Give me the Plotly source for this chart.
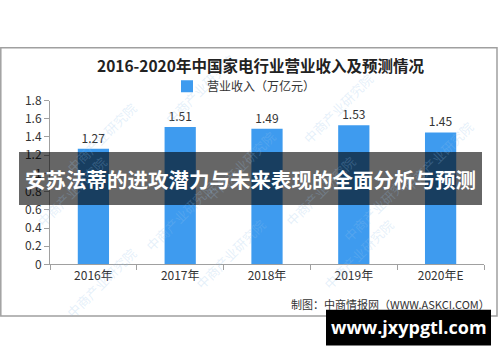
import plotly.graph_objects as go

categories = ["2016年", "2017年", "2018年", "2019年", "2020年E"]
revenue = [1.27, 1.51, 1.49, 1.53, 1.45]
y_ticks = [0, 0.2, 0.4, 0.6, 0.8, 1, 1.2, 1.4, 1.6, 1.8]
title_text = "2016-2020年中国家电行业营业收入及预测情况"
series_name = "营业收入（万亿元）"
source_text = "制图：中商情报网（WWW.ASKCI.COM）"
overlay_text = "安苏法蒂的进攻潜力与未来表现的全面分析与预测"
site_text = "www.jxypgtl.com"

W, H = 500, 362
def px(x): return x / W
def py(y): return 1 - y / H

FONT = "Noto Sans CJK SC"

fig = go.Figure()
fig.add_trace(go.Bar(
    x=categories, y=revenue, name=series_name,
    marker=dict(color="#3E9BEF", line=dict(width=0)),
    width=0.36,
    text=[f"{v:.2f}" for v in revenue], textposition="outside",
    textfont=dict(size=12, color="#333333", family=FONT),
    cliponaxis=False,
))

shapes = [
    dict(type="rect", xref="paper", yref="paper",
         x0=px(0.8), x1=px(497), y0=py(39.5), y1=py(321),
         line=dict(color="#A0A0A0", width=1.5), fillcolor="rgba(0,0,0,0)", layer="below"),
    dict(type="rect", xref="paper", yref="paper",
         x0=px(19), x1=px(482), y0=py(149), y1=py(204.5),
         line=dict(width=0), fillcolor="rgba(0,0,0,0.6)", layer="above"),
    dict(type="rect", xref="paper", yref="paper",
         x0=px(326), x1=px(491), y0=py(314.5), y1=py(352),
         line=dict(width=0), fillcolor="#000000", layer="above"),
]

annotations = []
# faint watermarks (drawn first, beneath other texts)
for (wx, wy) in [(60, 90), (200, 40), (240, 120), (380, 60), (480, 110), (30, 190), (180, 260),
                 (320, 190), (420, 250), (60, 330), (230, 300), (400, 300)]:
    annotations.append(dict(text="中商产业研究院", xref="paper", yref="paper", x=px(wx), y=py(wy),
                            showarrow=False, textangle=-45,
                            font=dict(size=13, color="rgba(150,195,235,0.25)", family=FONT)))

annotations += [
    dict(text=f"<b>{title_text}</b>", xref="paper", yref="paper", x=px(260), y=py(58),
         showarrow=False, font=dict(size=15.5, color="#222222", family=FONT), xanchor="center", yanchor="middle"),
    dict(text=source_text, xref="paper", yref="paper", x=px(492), y=py(308),
         showarrow=False, font=dict(size=11, color="#333333", family=FONT), xanchor="right", yanchor="middle"),
    dict(text=f"<b>{overlay_text}</b>", xref="paper", yref="paper", x=px(250.5), y=py(177),
         showarrow=False, font=dict(size=20.5, color="#FFFFFF", family=FONT), xanchor="center", yanchor="middle"),
    dict(text=f"<b>{site_text}</b>", xref="paper", yref="paper", x=px(408.5), y=py(333),
         showarrow=False, font=dict(size=18, color="#FFFFFF", family="Open Sans"), xanchor="center", yanchor="middle"),
]

fig.update_layout(
    width=W, height=H,
    margin=dict(l=0, r=0, t=0, b=0),
    paper_bgcolor="white", plot_bgcolor="white",
    font=dict(family=FONT, color="#333333"),
    showlegend=True,
    legend=dict(orientation="h", x=px(244), y=py(80), xanchor="center", yanchor="middle",
                font=dict(size=12, color="#333333", family=FONT), bgcolor="rgba(0,0,0,0)",
                itemwidth=30),
    xaxis=dict(domain=[px(50), px(484)], showline=True, linecolor="#A0A0A0", linewidth=1,
               ticks="outside", tickson="boundaries", ticklen=5, tickcolor="#A0A0A0",
               tickfont=dict(size=12, color="#333333", family=FONT), showgrid=False),
    yaxis=dict(domain=[py(267), py(95)], range=[0, 1.8], showline=True, linecolor="#A0A0A0",
               linewidth=1, ticks="outside", ticklen=5, tickcolor="#A0A0A0",
               tickvals=y_ticks, ticktext=[str(v) for v in y_ticks],
               tickfont=dict(size=12, color="#333333", family=FONT), showgrid=False, zeroline=False),
    shapes=shapes,
    annotations=annotations,
)

fig.write_html("out.html")
